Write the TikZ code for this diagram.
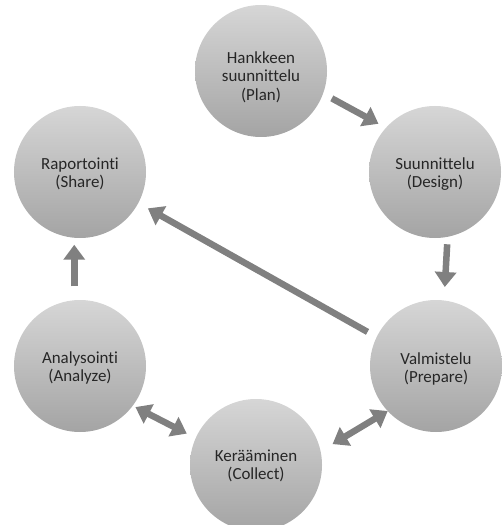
\documentclass[tikz,border=0pt]{standalone}
\usepackage{fontspec}
\setmainfont{Carlito}[Ligatures=NoCommon]
\usetikzlibrary{arrows.meta}
\definecolor{discTop}{HTML}{D6D6D6}
\definecolor{discBot}{HTML}{A4A4A4}
\definecolor{flow}{HTML}{808080}
\definecolor{ink}{HTML}{262626}
\begin{document}
\begin{tikzpicture}[x=1bp,y=-1bp,
  stage/.style={circle, minimum size=132bp, inner sep=0pt, outer sep=0pt,
    top color=discTop, bottom color=discBot, draw=none},
  caption/.style={align=center, text=ink, inner sep=0pt,
    font=\fontsize{17}{18.5}\selectfont},
  flowarrow/.style={draw=flow, line width=6.5bp, -{Triangle[length=15bp,width=21bp]}},
  twoway/.style={draw=flow, line width=6.5bp,
    {Triangle[length=15bp,width=21bp]}-{Triangle[length=15bp,width=21bp]}}]
\useasboundingbox (0,0) rectangle (502,525);

% the six stages of the cycle
\node[stage] (plan)    at (261,71)  {};
\node[stage] (design)  at (435,172) {};
\node[stage] (prepare) at (436,366) {};
\node[stage] (collect) at (256,465) {};
\node[stage] (analyze) at (80,366)  {};
\node[stage] (share)   at (80,172)  {};

% stage names
\node[caption] (planText)    at ([yshift=-6bp]plan)    {Hankkeen\\suunnittelu\\(Plan)};
\node[caption] (designText)  at ([yshift=-2bp]design)  {Suunnittelu\\(Design)};
\node[caption] (prepareText) at ([yshift=-3bp]prepare) {Valmistelu\\(Prepare)};
\node[caption] (collectText) at ([yshift=-1bp]collect) {Kerääminen\\(Collect)};
\node[caption] (analyzeText) at ([yshift=-2bp]analyze) {Analysointi\\(Analyze)};
\node[caption] (shareText)   at ([yshift=-2bp]share)   {Raportointi\\(Share)};

% flow between the stages
\draw[flowarrow, shorten <=10bp, shorten >=8.5bp] (plan.-20) -- (design.138);
\draw[flowarrow, shorten <=7.5bp, shorten >=13.5bp] (design.-79) -- (prepare.83);
\draw[flowarrow, shorten <=10.5bp, shorten >=11bp] (prepare.154) -- (share.-28);
\draw[flowarrow, shorten <=14bp, shorten >=7bp] (analyze.95) -- (share.-95);
\draw[twoway, shorten <=3bp, shorten >=10bp] (analyze.-37) -- (collect.156);
\draw[twoway, shorten <=14bp, shorten >=0bp] (collect.12) -- (prepare.-137);
\end{tikzpicture}
\end{document}
